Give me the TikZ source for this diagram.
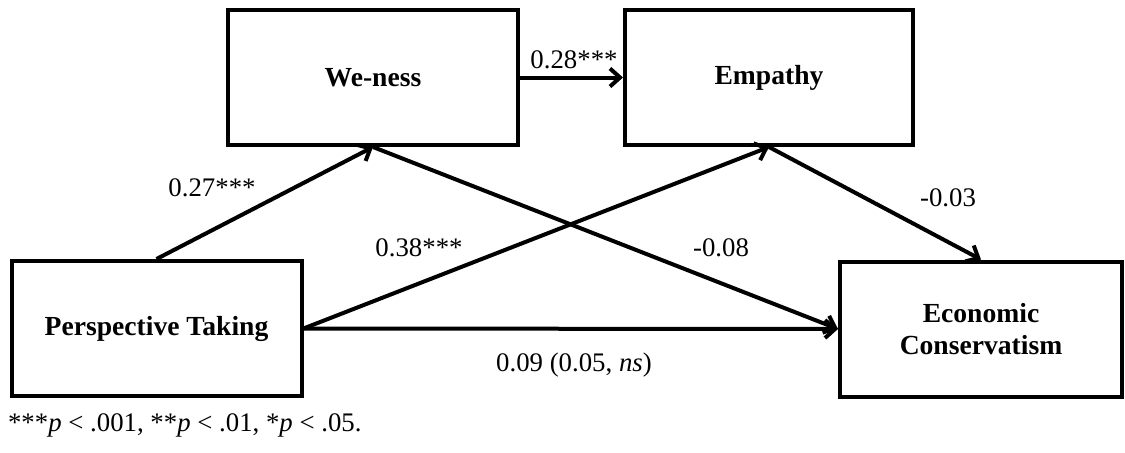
\documentclass[tikz,border=0pt]{standalone}
\usepackage{fontspec}
\setmainfont{Liberation Serif}
\usetikzlibrary{arrows.meta}
\tikzset{
  box/.style={draw, line width=2pt, minimum width=145pt, minimum height=67.5pt, align=center, font=\fontsize{13.8}{16}\selectfont\bfseries},
  link/.style={line width=2pt, -{Straight Barb[length=5pt,width=9pt,line width=2pt]}},
  coef/.style={font=\fontsize{13.4}{16}\selectfont}
}
\begin{document}
\begin{tikzpicture}[x=0.5pt,y=-0.5pt]
\useasboundingbox (0,0) rectangle (1125,452);
\node [box] (pt) at (156.5,328.5) {Perspective Taking};
\node [box] (we) at (373,77.5) {We-ness};
\node [box, minimum width=144pt] (emp) at (769,77.5) {Empathy};
\node [box, minimum width=141pt] (ec) at (981,329) {Economic\\Conservatism};
\draw [link] (pt.north) -- (we.south);
\draw [link] (pt.east) -- (emp.south);
\draw [link] (pt.east) -- (ec.west);
\draw [link] (we.south) -- (ec.west);
\draw [link] (emp.south) -- (ec.north);
\draw [link] (we.east) -- (emp.west);
\node [coef] (c1) at (212,188) {0.27***};
\node [coef] (c2) at (574,60) {0.28***};
\node [coef] (c3) at (419,248) {0.38***};
\node [coef] (c4) at (721,248) {-0.08};
\node [coef] (c5) at (948,198) {-0.03};
\node [coef] (c6) at (574,365) {0.09 (0.05, \textit{ns})};
\node [coef, anchor=west] (note) at (1,425) {***\textit{p} < .001, **\textit{p} < .01, *\textit{p} < .05.};
\end{tikzpicture}
\end{document}
